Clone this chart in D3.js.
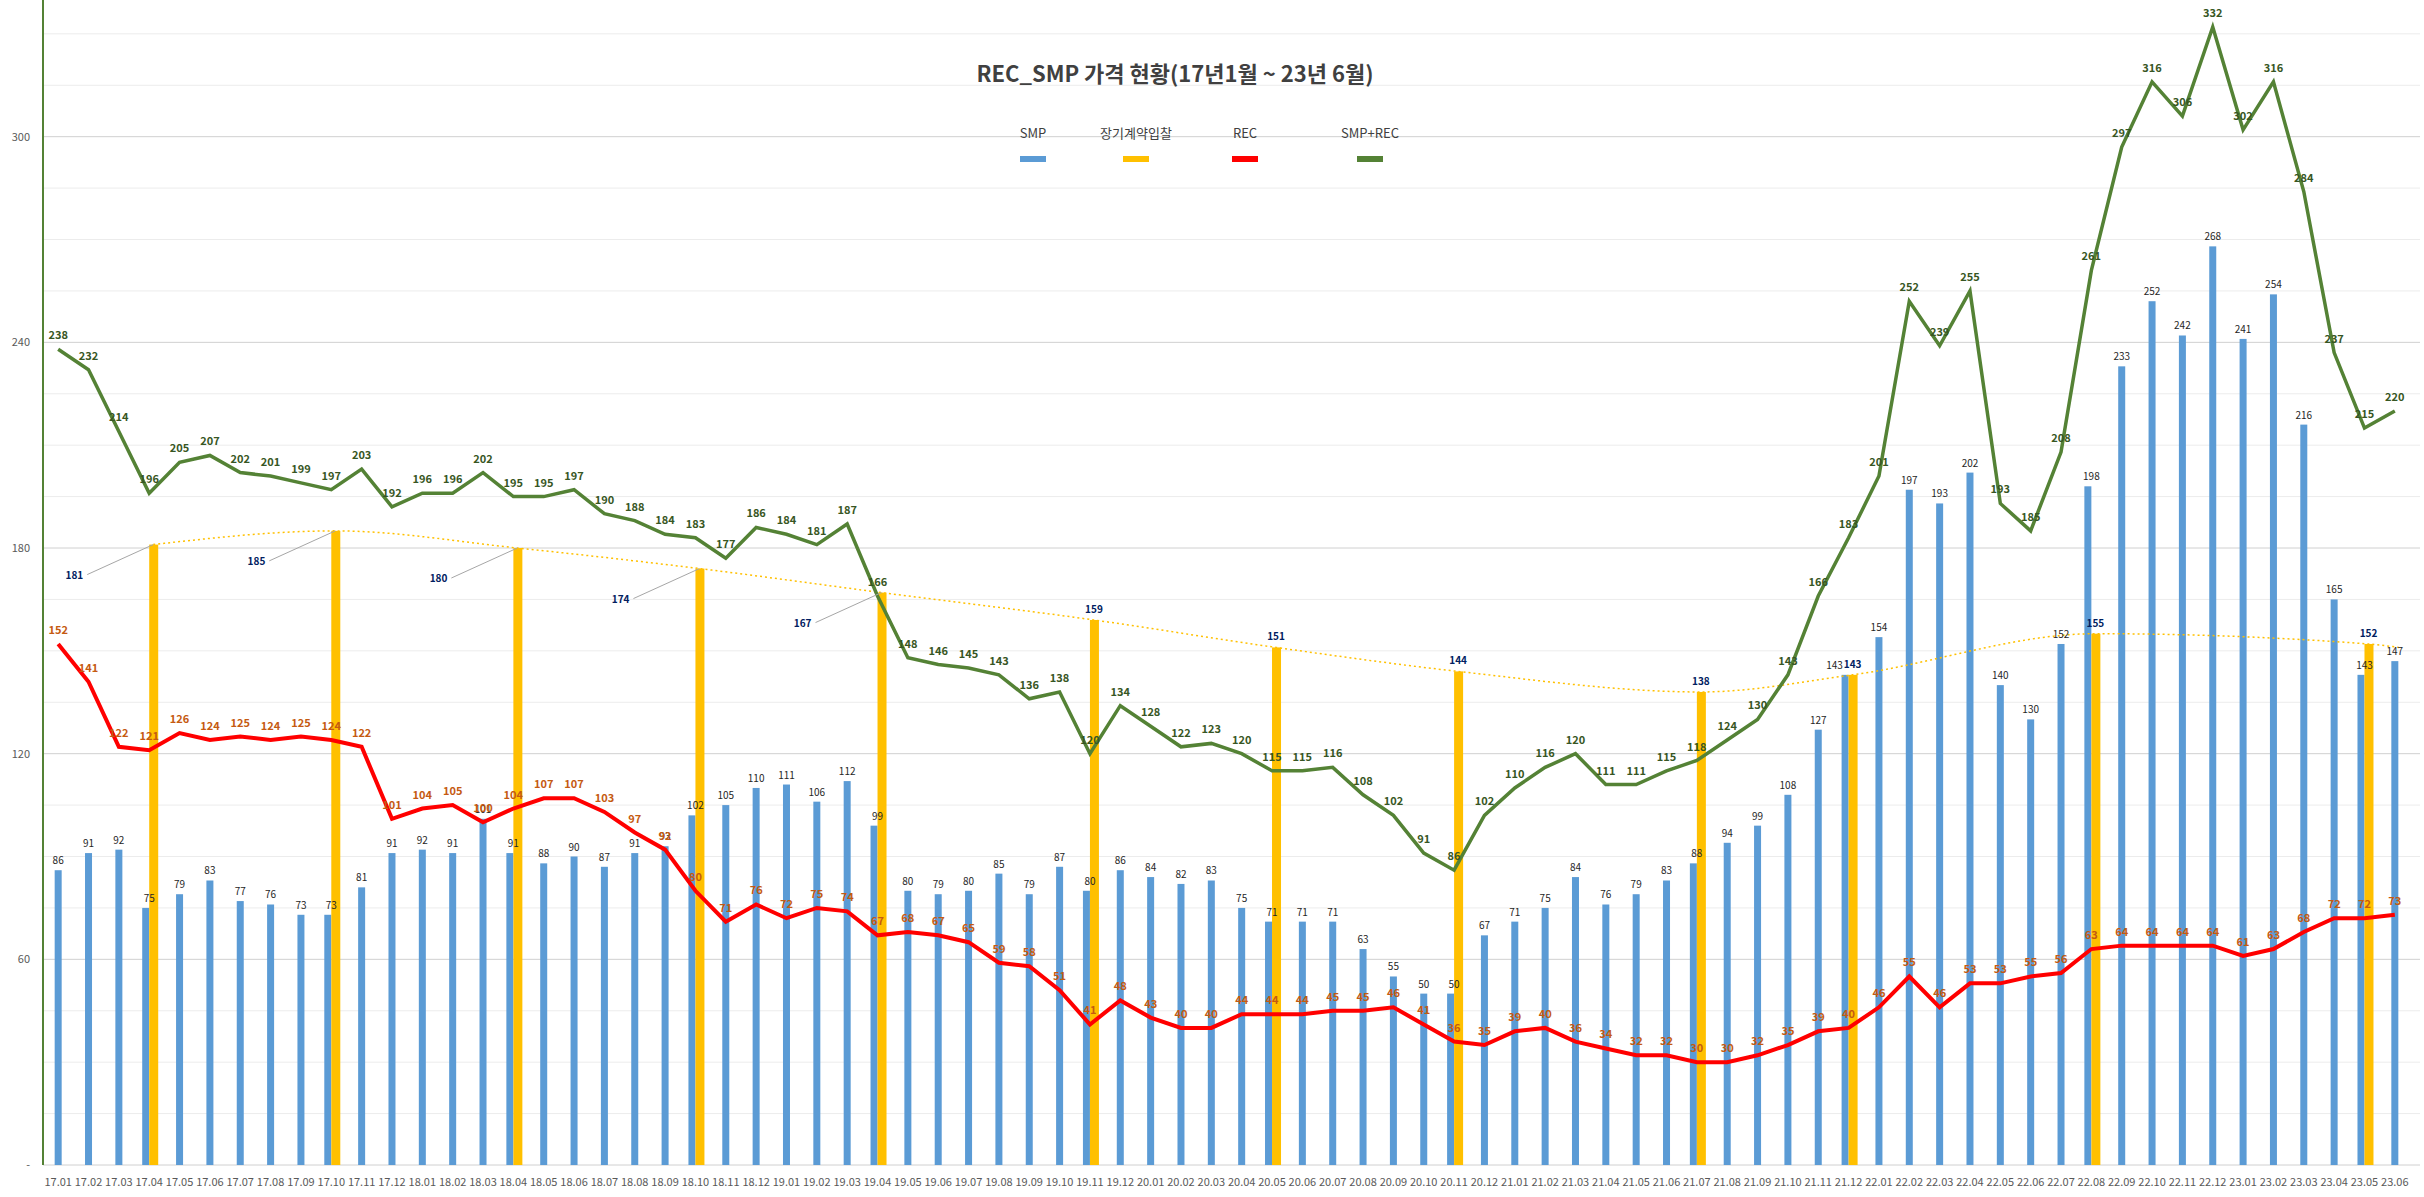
<!DOCTYPE html>
<html><head><meta charset="utf-8">
<script src="https://cdn.jsdelivr.net/npm/d3@7"></script>
<style>body{margin:0;background:#fff}text{font-family:"Noto Sans CJK KR","Noto Sans",sans-serif}</style>
</head><body><svg width="2424" height="1197"></svg>
<script>
const months = [];
for (let y = 17; y <= 23; y++) for (let m = 1; m <= 12; m++) { if (y === 23 && m > 6) break; months.push(y + '.' + String(m).padStart(2, '0')); }

const smp = [86,91,92,75,79,83,77,76,73,73,81,91, 92,91,101,91,88,90,87,91,93,102,105,110,
  111,106,112,99,80,79,80,85,79,87,80,86, 84,82,83,75,71,71,71,63,55,50,50,67,
  71,75,84,76,79,83,88,94,99,108,127,143, 154,197,193,202,140,130,152,198,233,252,242,268,
  241,254,216,165,143,147];
const rec = [152,141,122,121,126,124,125,124,125,124,122,101, 104,105,100,104,107,107,103,97,92,80,71,76,
  72,75,74,67,68,67,65,59,58,51,41,48, 43,40,40,44,44,44,45,45,46,41,36,35,
  39,40,36,34,32,32,30,30,32,35,39,40, 46,55,46,53,53,55,56,63,64,64,64,64,
  61,63,68,72,72,73];
const total = [238,232,214,196,205,207,202,201,199,197,203,192, 196,196,202,195,195,197,190,188,184,183,177,186,
  184,181,187,166,148,146,145,143,136,138,120,134, 128,122,123,120,115,115,116,108,102,91,86,102,
  110,116,120,111,111,115,118,124,130,143,166,183, 201,252,239,255,193,185,208,261,297,316,306,332,
  302,316,284,237,215,220];
const longMonths = ['17.04','17.10','18.04','18.10','19.04','19.11','20.05','20.11','21.07','21.12','22.08','23.05'];
const longVals = [181,185,180,174,167,159,151,144,138,143,155,152];
const yTicks = [0,60,120,180,240,300];

const svg = d3.select('svg');
const L = 43, R = 2410, T = 3, B = 1165;
const x = d3.scaleBand().domain(months).range([L, R]).paddingInner(0);
const y = d3.scaleLinear().domain([0, 339]).range([B, T]);
const cx = m => x(m) + x.bandwidth() / 2;

// gridlines every 15
svg.append('g').selectAll('line').data(d3.range(15, 339, 15)).join('line')
  .attr('x1', L).attr('x2', 2420).attr('y1', d => y(d)).attr('y2', d => y(d))
  .attr('stroke', d => d % 60 === 0 ? '#d0d0d0' : '#ececec').attr('stroke-width', 1);
svg.append('line').attr('x1', L).attr('x2', 2420).attr('y1', B).attr('y2', B).attr('stroke', '#d0d0d0');
svg.append('line').attr('x1', L).attr('x2', L).attr('y1', 0).attr('y2', B).attr('stroke', '#548235').attr('stroke-width', 2);

svg.append('g').selectAll('text').data(yTicks).join('text')
  .attr('x', 30).attr('y', d => y(d) + 4).attr('text-anchor', 'end')
  .attr('font-size', 11).attr('fill', '#595959').text(d => d === 0 ? '-' : d);

svg.append('g').selectAll('text').data(months).join('text')
  .attr('x', cx).attr('y', 1186).attr('text-anchor', 'middle')
  .attr('font-size', 11).attr('fill', '#595959').text(d => d);

// bars
const bw = 7;
const isLong = m => longMonths.includes(m);
svg.append('g').selectAll('rect').data(months).join('rect')
  .attr('x', m => isLong(m) ? cx(m) - bw : cx(m) - bw / 2)
  .attr('y', (m, i) => y(smp[i])).attr('width', bw)
  .attr('height', (m, i) => B - y(smp[i])).attr('fill', '#5B9BD5');
svg.append('g').selectAll('rect').data(longMonths).join('rect')
  .attr('x', m => cx(m)).attr('y', (m, i) => y(longVals[i])).attr('width', bw + 2)
  .attr('height', (m, i) => B - y(longVals[i])).attr('fill', '#FFC000');

// dotted trend through long-term contract values
const trendPts = longMonths.map((m, i) => [cx(m) + 4, y(longVals[i])]);
trendPts.push([cx('23.06') + 4, y(151)]);
svg.append('path').attr('d', d3.line().curve(d3.curveMonotoneX)(trendPts))
  .attr('fill', 'none').attr('stroke', '#FFC000').attr('stroke-width', 1.5).attr('stroke-dasharray', '2,3');

// lines
const line = d3.line().x((d, i) => cx(months[i])).y(d => y(d));
svg.append('path').attr('d', line(rec)).attr('fill', 'none').attr('stroke', '#FF0000').attr('stroke-width', 4);
svg.append('path').attr('d', line(total)).attr('fill', 'none').attr('stroke', '#548235').attr('stroke-width', 3.5);

// labels
svg.append('g').selectAll('text').data(months).join('text')
  .attr('x', m => m === '21.12' ? cx(m) - 14 : cx(m)).attr('y', (m, i) => y(smp[i]) - 6).attr('text-anchor', 'middle')
  .attr('font-size', 10).attr('fill', '#262626').text((m, i) => smp[i]);

// first five contract labels sit to the left with a leader line, as in the reference
const leftCount = 5;
const lgl = svg.append('g');
lgl.selectAll('line').data(longMonths.slice(0, leftCount)).join('line')
  .attr('x1', m => cx(m) - 62).attr('y1', (m, i) => y(longVals[i]) + 30)
  .attr('x2', m => cx(m) + 4).attr('y2', (m, i) => y(longVals[i]))
  .attr('stroke', '#a6a6a6').attr('stroke-width', 1);
lgl.selectAll('text').data(longMonths).join('text')
  .attr('x', (m, i) => i < leftCount ? cx(m) - 66 : cx(m) + 4)
  .attr('y', (m, i) => i < leftCount ? y(longVals[i]) + 34 : y(longVals[i]) - 7)
  .attr('text-anchor', (m, i) => i < leftCount ? 'end' : 'middle')
  .attr('font-size', 10).attr('font-weight', 'bold').attr('fill', '#002060').text((m, i) => longVals[i]);

svg.append('g').selectAll('text').data(months).join('text')
  .attr('x', cx).attr('y', (m, i) => y(rec[i]) - 10).attr('text-anchor', 'middle')
  .attr('font-size', 11).attr('font-weight', 'bold').attr('fill', '#C55A11').text((m, i) => rec[i]);
svg.append('g').selectAll('text').data(months).join('text')
  .attr('x', cx).attr('y', (m, i) => y(total[i]) - 10).attr('text-anchor', 'middle')
  .attr('font-size', 11).attr('font-weight', 'bold').attr('fill', '#375623').text((m, i) => total[i]);

// title
svg.append('text').attr('x', 1175).attr('y', 82).attr('text-anchor', 'middle')
  .attr('font-size', 22).attr('font-weight', 'bold').attr('fill', '#404040')
  .text('REC_SMP 가격 현황(17년1월 ~ 23년 6월)');

// legend
const legend = [
  {name: 'SMP', color: '#5B9BD5', x: 1033},
  {name: '장기계약입찰', color: '#FFC000', x: 1136},
  {name: 'REC', color: '#FF0000', x: 1245},
  {name: 'SMP+REC', color: '#548235', x: 1370},
];
const lg = svg.append('g').selectAll('g').data(legend).join('g');
lg.append('text').attr('x', d => d.x).attr('y', 138).attr('text-anchor', 'middle')
  .attr('font-size', 13).attr('fill', '#404040').text(d => d.name);
lg.append('rect').attr('x', d => d.x - 13).attr('y', 156).attr('width', 26).attr('height', 6).attr('fill', d => d.color);
</script></body></html>
